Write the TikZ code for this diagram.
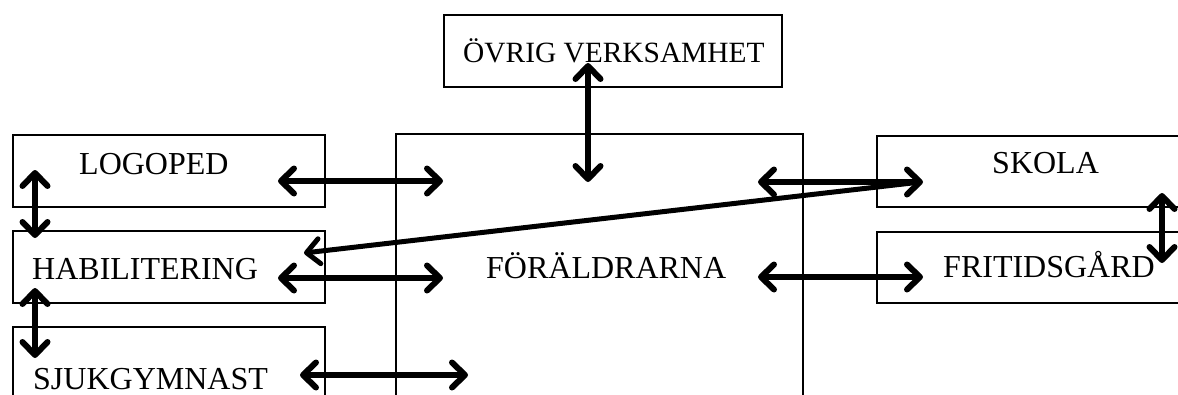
\documentclass[tikz,border=0pt]{standalone}
\usepackage{fontspec}
\setmainfont{Liberation Serif}
\usetikzlibrary{arrows.meta}
\tikzset{
  box/.style={draw=black, line width=2pt, fill=white, inner sep=0pt},
  lbl/.style={inner sep=0pt, anchor=base west, font=\fontsize{32}{36}\selectfont},
  dbl/.style={line width=6pt, {Straight Barb[length=13pt,width=25pt,line cap=round,line join=round]}-{Straight Barb[length=13pt,width=25pt,line cap=round,line join=round]}},
  sgl/.style={line width=5pt, -{Straight Barb[length=13pt,width=25pt,line cap=round,line join=round]}}
}
\begin{document}
\begin{tikzpicture}[x=1pt,y=-1pt]
\useasboundingbox (0,0) rectangle (1178,394);
\clip (0,0) rectangle (1178,394);
% boxes
\draw[box] (396,134) rectangle (803,420) coordinate (parentsBR);
\node[box, minimum width=338pt, minimum height=72pt, anchor=north west] (ovrig) at (443,14) {};
\node[box, minimum width=312pt, minimum height=72pt, anchor=north west] (logoped) at (12,134) {};
\node[box, minimum width=312pt, minimum height=72pt, anchor=north west] (habil) at (12,230) {};
\node[box, minimum width=312pt, minimum height=90pt, anchor=north west] (sjuk) at (12,326) {};
\node[box, minimum width=330pt, minimum height=71pt, anchor=north west] (skola) at (876,135) {};
\node[box, minimum width=330pt, minimum height=71pt, anchor=north west] (fritid) at (876,231) {};
% labels
\node[lbl, font=\fontsize{29.4}{34}\selectfont] (tovrig) at (463,62) {ÖVRIG VERKSAMHET};
\node[lbl] (tlogoped) at (79,174) {LOGOPED};
\node[lbl] (thabil) at (32,279) {HABILITERING};
\node[lbl] (tsjuk) at (33,389) {SJUKGYMNAST};
\node[lbl] (tparents) at (486,278) {FÖRÄLDRARNA};
\node[lbl] (tskola) at (992,173) {SKOLA};
\node[lbl] (tfritid) at (943,277) {FRITIDSGÅRD};
% arrow end points
\coordinate (a1) at (278,181); \coordinate (b1) at (443,181);
\coordinate (a2) at (278,278); \coordinate (b2) at (443,278);
\coordinate (a3) at (300,375); \coordinate (b3) at (468,375);
\coordinate (a4) at (35,170);  \coordinate (b4) at (35,238);
\coordinate (a5) at (35,288);  \coordinate (b5) at (35,358);
\coordinate (a6) at (588,63);  \coordinate (b6) at (588,182);
\coordinate (a7) at (758,182); \coordinate (b7) at (923,182);
\coordinate (a8) at (758,277); \coordinate (b8) at (923,277);
\coordinate (a9) at (1162,193); \coordinate (b9) at (1162,263);
\coordinate (d1) at (912,183); \coordinate (d2) at (304,253);
% arrows
\draw[dbl] (a1) -- (b1);
\draw[dbl] (a2) -- (b2);
\draw[dbl] (a3) -- (b3);
\draw[dbl] (a4) -- (b4);
\draw[dbl] (a5) -- (b5);
\draw[dbl] (a6) -- (b6);
\draw[dbl] (a7) -- (b7);
\draw[dbl] (a8) -- (b8);
\draw[dbl] (a9) -- (b9);
\draw[sgl] (d1) -- (d2);
\end{tikzpicture}
\end{document}
